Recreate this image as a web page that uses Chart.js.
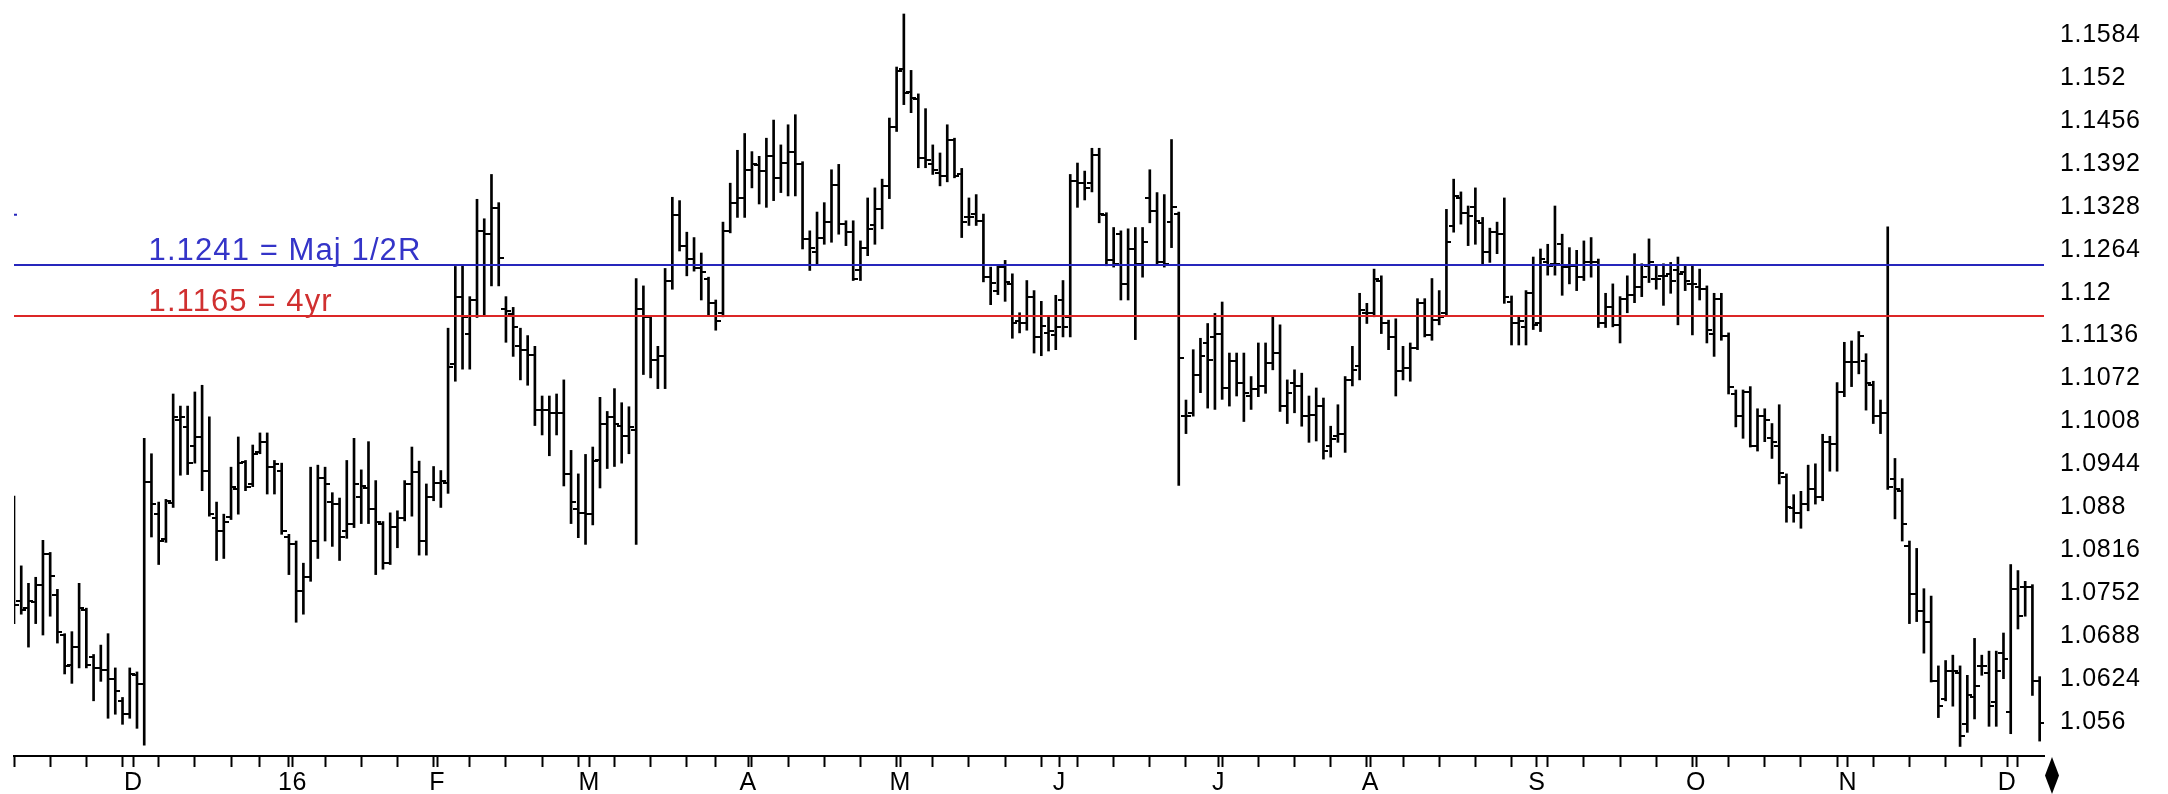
<!DOCTYPE html>
<html>
<head>
<meta charset="utf-8">
<script src="https://cdn.jsdelivr.net/npm/chart.js@4.4.0/dist/chart.umd.min.js"></script>
<style>
  html, body { margin: 0; padding: 0; background: #fff; }
  #wrap { width: 2168px; height: 794px; }
</style>
</head>
<body>
<div id="wrap"><canvas id="chart" width="2168" height="794"></canvas></div>
<script>
// Daily bars, Nov 9 2015 .. Dec 8 2016 (index = trading day)
const opens = [
  1.0739, 1.0740, 1.0730, 1.0739, 1.0765, 1.0810, 1.0750, 1.0690, 1.0645, 1.0672,
  1.0728, 1.0658, 1.0641, 1.0638, 1.0625, 1.0592, 1.0572, 1.0630, 1.0617, 1.0918,
  1.0870, 1.0833, 1.0886, 1.1010, 1.1000, 1.0972, 1.0985, 1.0935, 1.0865, 1.0845,
  1.0866, 1.0907, 1.0948, 1.0915, 1.0962, 1.0977, 1.0941, 1.0935, 1.0836, 1.0825,
  1.0755, 1.0776, 1.0830, 1.0924, 1.0888, 1.0885, 1.0845, 1.0856, 1.0896, 1.0909,
  1.0878, 1.0855, 1.0798, 1.0851, 1.0864, 1.0915, 1.0933, 1.0830, 1.0896, 1.0917,
  1.0917, 1.1094, 1.1194, 1.1139, 1.1189, 1.1292, 1.1287, 1.1326, 1.1176, 1.1168,
  1.1120, 1.1115, 1.1107, 1.1025, 1.1025, 1.1020, 1.1020, 1.0930, 1.0878, 1.0872,
  1.0870, 1.0951, 1.1004, 1.1015, 1.1002, 1.0986, 1.0995, 1.1176, 1.1163, 1.1099,
  1.1105, 1.1218, 1.1316, 1.1270, 1.1250, 1.1237, 1.1220, 1.1184, 1.1170, 1.1292,
  1.1334, 1.1341, 1.1383, 1.1390, 1.1381, 1.1403, 1.1371, 1.1393, 1.1410, 1.1391,
  1.1280, 1.1260, 1.1282, 1.1305, 1.1361, 1.1302, 1.1290, 1.1233, 1.1267, 1.1300,
  1.1324, 1.1359, 1.1447, 1.1533, 1.1499, 1.1489, 1.1400, 1.1391, 1.1378, 1.1373,
  1.1428, 1.1376, 1.1312, 1.1317, 1.1307, 1.1223, 1.1203, 1.1238, 1.1213, 1.1157,
  1.1154, 1.1194, 1.1134, 1.1140, 1.1137, 1.1189, 1.1164, 1.1366, 1.1364, 1.1364,
  1.1405, 1.1315, 1.1248, 1.1287, 1.1213, 1.1265, 1.1243, 1.1341, 1.1321, 1.1245,
  1.1305, 1.1317, 1.1016, 1.1021, 1.1078, 1.1125, 1.1134, 1.1139, 1.1058, 1.1098,
  1.1065, 1.1046, 1.1056, 1.1061, 1.1095, 1.1110, 1.1031, 1.1065, 1.1061, 1.1016,
  1.1018, 1.1031, 1.0972, 1.0987, 1.0989, 1.1070, 1.1090, 1.1169, 1.1169, 1.1218,
  1.1154, 1.1134, 1.1083, 1.1088, 1.1117, 1.1185, 1.1137, 1.1159, 1.1170, 1.1299,
  1.1341, 1.1319, 1.1327, 1.1304, 1.1260, 1.1290, 1.1287, 1.1186, 1.1154, 1.1149,
  1.1199, 1.1154, 1.1245, 1.1243, 1.1272, 1.1238, 1.1240, 1.1223, 1.1245, 1.1245,
  1.1154, 1.1179, 1.1152, 1.1191, 1.1196, 1.1208, 1.1240, 1.1221, 1.1225, 1.1228,
  1.1233, 1.1230, 1.1213, 1.1208, 1.1206, 1.1139, 1.1190, 1.1136, 1.1049, 1.1016,
  1.1052, 1.0972, 1.1016, 1.0984, 1.0972, 1.0926, 1.0879, 1.0871, 1.0885, 1.0907,
  1.0896, 1.0978, 1.0975, 1.1052, 1.1096, 1.1096, 1.1098, 1.1063, 1.1016, 1.1020,
  1.0923, 1.0904, 1.0822, 1.0751, 1.0726, 1.0710, 1.0622, 1.0595, 1.0636, 1.0633,
  1.0557, 1.0597, 1.0644, 1.0633, 1.0590, 1.0663, 1.0576, 1.0759, 1.0762, 1.0762, 1.0622
];
const highs = [
  1.0897, 1.0793, 1.0767, 1.0776, 1.0831, 1.0813, 1.0758, 1.0692, 1.0695, 1.0767,
  1.0730, 1.0661, 1.0675, 1.0692, 1.0641, 1.0597, 1.0641, 1.0635, 1.0983, 1.0960,
  1.0888, 1.0892, 1.1049, 1.1031, 1.1031, 1.1052, 1.1062, 1.1015, 1.0888, 1.0870,
  1.0940, 1.0985, 1.0950, 1.0973, 1.0991, 1.0991, 1.0950, 1.0946, 1.0840, 1.0830,
  1.0797, 1.0940, 1.0943, 1.0940, 1.0902, 1.0894, 1.0950, 1.0983, 1.0936, 1.0978,
  1.0920, 1.0859, 1.0872, 1.0875, 1.0920, 1.0970, 1.0949, 1.0915, 1.0941, 1.0935,
  1.1147, 1.1239, 1.1242, 1.1194, 1.1339, 1.1310, 1.1376, 1.1334, 1.1194, 1.1178,
  1.1147, 1.1136, 1.1120, 1.1046, 1.1046, 1.1049, 1.1070, 1.0965, 1.0930, 1.0959,
  1.0970, 1.1044, 1.1023, 1.1057, 1.1036, 1.1030, 1.1221, 1.1210, 1.1165, 1.1120,
  1.1236, 1.1342, 1.1337, 1.1290, 1.1282, 1.1259, 1.1223, 1.1189, 1.1305, 1.1363,
  1.1412, 1.1437, 1.1410, 1.1403, 1.1430, 1.1457, 1.1420, 1.1450, 1.1465, 1.1395,
  1.1292, 1.1320, 1.1334, 1.1383, 1.1391, 1.1307, 1.1307, 1.1277, 1.1341, 1.1356,
  1.1369, 1.1460, 1.1536, 1.1615, 1.1531, 1.1496, 1.1474, 1.1420, 1.1408, 1.1450,
  1.1430, 1.1385, 1.1341, 1.1346, 1.1317, 1.1238, 1.1241, 1.1248, 1.1228, 1.1170,
  1.1218, 1.1203, 1.1187, 1.1164, 1.1196, 1.1218, 1.1376, 1.1393, 1.1381, 1.1415,
  1.1415, 1.1319, 1.1297, 1.1292, 1.1295, 1.1297, 1.1297, 1.1383, 1.1349, 1.1346,
  1.1428, 1.1320, 1.1040, 1.1115, 1.1132, 1.1154, 1.1169, 1.1186, 1.1110, 1.1110,
  1.1110, 1.1075, 1.1125, 1.1125, 1.1164, 1.1152, 1.1070, 1.1085, 1.1080, 1.1046,
  1.1058, 1.1043, 1.1001, 1.1033, 1.1075, 1.1120, 1.1199, 1.1184, 1.1235, 1.1225,
  1.1159, 1.1161, 1.1120, 1.1125, 1.1191, 1.1191, 1.1221, 1.1203, 1.1324, 1.1369,
  1.1350, 1.1329, 1.1356, 1.1312, 1.1296, 1.1305, 1.1341, 1.1195, 1.1165, 1.1203,
  1.1253, 1.1265, 1.1272, 1.1329, 1.1287, 1.1267, 1.1263, 1.1277, 1.1282, 1.1250,
  1.1199, 1.1213, 1.1194, 1.1225, 1.1258, 1.1243, 1.1280, 1.1240, 1.1243, 1.1245,
  1.1253, 1.1240, 1.1240, 1.1235, 1.1210, 1.1199, 1.1199, 1.1140, 1.1055, 1.1055,
  1.1060, 1.1027, 1.1027, 1.1005, 1.1033, 1.0930, 1.0899, 1.0904, 1.0943, 1.0945,
  1.0989, 1.0986, 1.1066, 1.1126, 1.1128, 1.1142, 1.1109, 1.1068, 1.1040, 1.1298,
  1.0953, 1.0923, 1.0830, 1.0819, 1.0759, 1.0748, 1.0644, 1.0652, 1.0660, 1.0644,
  1.0630, 1.0685, 1.0660, 1.0666, 1.0666, 1.0693, 1.0795, 1.0786, 1.0770, 1.0765, 1.0628
];
const lows = [
  1.0707, 1.0721, 1.0672, 1.0707, 1.0690, 1.0718, 1.0678, 1.0632, 1.0618, 1.0641,
  1.0641, 1.0592, 1.0621, 1.0566, 1.0572, 1.0557, 1.0566, 1.0551, 1.0526, 1.0836,
  1.0795, 1.0828, 1.0880, 1.0928, 1.0929, 1.0946, 1.0905, 1.0867, 1.0801, 1.0804,
  1.0862, 1.0870, 1.0905, 1.0911, 1.0960, 1.0900, 1.0900, 1.0840, 1.0780, 1.0709,
  1.0721, 1.0770, 1.0804, 1.0830, 1.0822, 1.0801, 1.0834, 1.0850, 1.0856, 1.0856,
  1.0780, 1.0788, 1.0795, 1.0820, 1.0860, 1.0867, 1.0809, 1.0809, 1.0890, 1.0880,
  1.0901, 1.1068, 1.1086, 1.1086, 1.1163, 1.1165, 1.1210, 1.1210, 1.1126, 1.1105,
  1.1070, 1.1062, 1.1002, 1.0988, 1.0957, 1.0988, 1.0912, 1.0856, 1.0835, 1.0825,
  1.0854, 1.0909, 1.0938, 1.0941, 1.0946, 1.0960, 1.0825, 1.1078, 1.1073, 1.1057,
  1.1057, 1.1205, 1.1262, 1.1225, 1.1232, 1.1189, 1.1167, 1.1144, 1.1164, 1.1289,
  1.1312, 1.1312, 1.1356, 1.1332, 1.1327, 1.1337, 1.1349, 1.1344, 1.1344, 1.1265,
  1.1233, 1.1243, 1.1272, 1.1275, 1.1287, 1.1270, 1.1218, 1.1218, 1.1255, 1.1272,
  1.1295, 1.1340, 1.1440, 1.1480, 1.1468, 1.1386, 1.1386, 1.1376, 1.1359, 1.1365,
  1.1371, 1.1282, 1.1300, 1.1300, 1.1216, 1.1182, 1.1197, 1.1187, 1.1132, 1.1140,
  1.1144, 1.1110, 1.1106, 1.1113, 1.1115, 1.1134, 1.1134, 1.1327, 1.1338, 1.1350,
  1.1304, 1.1240, 1.1238, 1.1189, 1.1189, 1.1130, 1.1223, 1.1304, 1.1243, 1.1238,
  1.1267, 1.0913, 1.0990, 1.1016, 1.1051, 1.1028, 1.1026, 1.1041, 1.1031, 1.1046,
  1.1008, 1.1026, 1.1045, 1.1050, 1.1085, 1.1023, 1.1005, 1.1021, 1.1001, 1.0977,
  1.0979, 1.0952, 1.0955, 1.0977, 1.0962, 1.1061, 1.1070, 1.1154, 1.1164, 1.1139,
  1.1115, 1.1046, 1.1070, 1.1068, 1.1115, 1.1134, 1.1129, 1.1152, 1.1165, 1.1290,
  1.1302, 1.1270, 1.1272, 1.1243, 1.1245, 1.1258, 1.1184, 1.1122, 1.1122, 1.1122,
  1.1145, 1.1142, 1.1226, 1.1226, 1.1196, 1.1213, 1.1203, 1.1218, 1.1223, 1.1148,
  1.1148, 1.1149, 1.1125, 1.1170, 1.1185, 1.1194, 1.1215, 1.1205, 1.1181, 1.1199,
  1.1152, 1.1203, 1.1137, 1.1189, 1.1125, 1.1105, 1.1129, 1.1049, 1.1000, 1.0983,
  1.0970, 1.0964, 1.0978, 1.0953, 1.0915, 1.0858, 1.0858, 1.0849, 1.0875, 1.0885,
  1.0890, 1.0934, 1.0934, 1.1045, 1.1060, 1.1079, 1.1025, 1.1005, 1.0990, 1.0907,
  1.0863, 1.0830, 1.0707, 1.0710, 1.0663, 1.0620, 1.0567, 1.0592, 1.0584, 1.0524,
  1.0545, 1.0565, 1.0630, 1.0554, 1.0554, 1.0625, 1.0543, 1.0699, 1.0718, 1.0600, 1.0532
];
const closes = [
  1.0735, 1.0727, 1.0740, 1.0765, 1.0810, 1.0778, 1.0695, 1.0644, 1.0672, 1.0730,
  1.0645, 1.0641, 1.0638, 1.0625, 1.0606, 1.0572, 1.0632, 1.0617, 1.0918, 1.0885,
  1.0830, 1.0890, 1.1015, 1.1015, 1.0946, 1.0985, 1.0935, 1.0870, 1.0845, 1.0858,
  1.0911, 1.0946, 1.0911, 1.0960, 1.0977, 1.0941, 1.0945, 1.0845, 1.0825, 1.0756,
  1.0776, 1.0830, 1.0924, 1.0915, 1.0885, 1.0836, 1.0856, 1.0915, 1.0912, 1.0878,
  1.0859, 1.0798, 1.0851, 1.0864, 1.0915, 1.0933, 1.0830, 1.0896, 1.0917, 1.0920,
  1.1089, 1.1194, 1.1163, 1.1189, 1.1292, 1.1287, 1.1326, 1.1252, 1.1173, 1.1149,
  1.1115, 1.1107, 1.1025, 1.1025, 1.1020, 1.1020, 1.0930, 1.0888, 1.0872, 1.0870,
  1.0949, 1.1004, 1.1015, 1.1004, 1.0986, 1.1000, 1.1176, 1.1163, 1.1099, 1.1105,
  1.1218, 1.1316, 1.1270, 1.1250, 1.1237, 1.1230, 1.1184, 1.1157, 1.1292, 1.1334,
  1.1341, 1.1383, 1.1391, 1.1381, 1.1403, 1.1371, 1.1393, 1.1410, 1.1391, 1.1280,
  1.1267, 1.1282, 1.1305, 1.1361, 1.1302, 1.1290, 1.1220, 1.1267, 1.1295, 1.1324,
  1.1359, 1.1447, 1.1530, 1.1498, 1.1490, 1.1400, 1.1398, 1.1383, 1.1373, 1.1428,
  1.1373, 1.1305, 1.1312, 1.1307, 1.1223, 1.1215, 1.1238, 1.1216, 1.1154, 1.1154,
  1.1194, 1.1134, 1.1150, 1.1143, 1.1149, 1.1149, 1.1366, 1.1364, 1.1356, 1.1405,
  1.1317, 1.1248, 1.1243, 1.1213, 1.1265, 1.1243, 1.1275, 1.1321, 1.1245, 1.1243,
  1.1327, 1.1103, 1.1016, 1.1078, 1.1105, 1.1100, 1.1139, 1.1058, 1.1098, 1.1065,
  1.1051, 1.1056, 1.1061, 1.1095, 1.1110, 1.1031, 1.1050, 1.1061, 1.1016, 1.1018,
  1.1031, 1.0964, 1.0982, 1.0989, 1.1070, 1.1085, 1.1174, 1.1169, 1.1220, 1.1154,
  1.1134, 1.1083, 1.1088, 1.1117, 1.1185, 1.1137, 1.1159, 1.1164, 1.1275, 1.1344,
  1.1319, 1.1314, 1.1307, 1.1260, 1.1290, 1.1287, 1.1194, 1.1154, 1.1157, 1.1199,
  1.1152, 1.1250, 1.1240, 1.1243, 1.1238, 1.1240, 1.1223, 1.1245, 1.1245, 1.1154,
  1.1179, 1.1152, 1.1191, 1.1196, 1.1208, 1.1223, 1.1245, 1.1221, 1.1225, 1.1218,
  1.1228, 1.1218, 1.1213, 1.1206, 1.1144, 1.1190, 1.1136, 1.1060, 1.1016, 1.1052,
  1.0972, 1.1016, 1.1011, 1.0978, 1.0931, 1.0880, 1.0871, 1.0885, 1.0907, 1.0896,
  1.0978, 1.0975, 1.1052, 1.1096, 1.1096, 1.1136, 1.1066, 1.1016, 1.1020, 1.0910,
  1.0907, 1.0855, 1.0751, 1.0726, 1.0710, 1.0622, 1.0584, 1.0636, 1.0636, 1.0540,
  1.0600, 1.0614, 1.0644, 1.0584, 1.0636, 1.0655, 1.0759, 1.0718, 1.0762, 1.0622, 1.0559
];

// x axis: Monday ticks, first trading day of each month, month labels
const weekTicks = [0, 5, 10, 15, 20, 25, 30, 34, 38, 43, 48, 53, 58, 63, 68, 73, 78, 83, 88, 93,
  97, 102, 107, 112, 117, 122, 127, 132, 137, 142, 147, 152, 157, 162, 167, 172, 177, 182, 187,
  192, 197, 202, 207, 212, 217, 222, 227, 232, 237, 242, 247, 252, 257, 262, 267, 272, 277];
const monthStarts = [16, 38, 58, 79, 101, 122, 144, 166, 187, 210, 232, 253, 275];
const monthLabels = ['D', '16', 'F', 'M', 'A', 'M', 'J', 'J', 'A', 'S', 'O', 'N', 'D'];

// y axis ticks (right side)
const yTicks = [1.056, 1.0624, 1.0688, 1.0752, 1.0816, 1.088, 1.0944, 1.1008, 1.1072, 1.1136,
  1.12, 1.1264, 1.1328, 1.1392, 1.1456, 1.152, 1.1584];

// horizontal levels
const levelValues = [1.1241, 1.1165];
const levelTexts = ['1.1241 = Maj 1/2R', '1.1165 = 4yr'];
const levelLineColors = ['#2626bc', '#dc2626'];
const levelTextColors = ['#3434c8', '#d03030'];

const xMax = 280.6;
const yMin = 1.05098, yMax = 1.16269;
const FONT = '"Liberation Sans", Arial, Helvetica, sans-serif';

Chart.defaults.font.family = FONT;
Chart.defaults.color = '#000';

function tickImage(side) {
  const c = document.createElement('canvas');
  c.width = 10; c.height = 2;
  const g = c.getContext('2d');
  g.fillStyle = '#000';
  g.fillRect(side === 'left' ? 0 : 5, 0, 5, 2);
  return c;
}

const levelLabels = {
  id: 'levelLabels',
  beforeDraw(chart) {
    // the original axis text is set a little wider than Arial
    chart.ctx.letterSpacing = '0.7px';
  },
  afterDatasetsDraw(chart) {
    const { ctx, scales: { x, y } } = chart;
    ctx.save();
    ctx.font = '31px ' + FONT;
    ctx.letterSpacing = '1.1px';
    ctx.textBaseline = 'alphabetic';
    ctx.textAlign = 'left';
    levelValues.forEach((v, i) => {
      ctx.fillStyle = levelTextColors[i];
      ctx.fillText(levelTexts[i], x.getPixelForValue(18.6), y.getPixelForValue(v) - 5);
    });
    // small blue mark on the left edge
    ctx.fillStyle = levelLineColors[0];
    ctx.fillRect(x.left, y.getPixelForValue(1.1316) - 1, 3, 2);
    ctx.restore();
  },
  afterDraw(chart) {
    // end-of-data diamond under the axis
    const { ctx, chartArea } = chart;
    const cx = chartArea.right + 8, top = chartArea.bottom + 1, bottom = 794;
    ctx.save();
    ctx.fillStyle = '#000';
    ctx.beginPath();
    ctx.moveTo(cx, top);
    ctx.lineTo(cx + 7, (top + bottom) / 2);
    ctx.lineTo(cx, bottom);
    ctx.lineTo(cx - 7, (top + bottom) / 2);
    ctx.closePath();
    ctx.fill();
    ctx.restore();
  }
};

const levelDatasets = levelValues.map((v, i) => ({
  type: 'line',
  data: [{ x: 0, y: v }, { x: xMax, y: v }],
  borderColor: levelLineColors[i],
  borderWidth: 2,
  pointRadius: 0,
  order: 0
}));

new Chart(document.getElementById('chart'), {
  type: 'bar',
  data: {
    datasets: [
      ...levelDatasets,
      {
        type: 'scatter',
        data: opens.map((v, i) => ({ x: i, y: v })),
        pointStyle: tickImage('left'),
        pointRadius: 5,
        order: 1
      },
      {
        type: 'scatter',
        data: closes.map((v, i) => ({ x: i, y: v })),
        pointStyle: tickImage('right'),
        pointRadius: 5,
        order: 1
      },
      {
        type: 'bar',
        data: highs.map((h, i) => ({ x: i, y: [lows[i], h] })),
        backgroundColor: '#000',
        borderWidth: 0,
        barThickness: 2,
        order: 2
      }
    ]
  },
  options: {
    responsive: false,
    animation: false,
    events: [],
    layout: { padding: { left: 14, right: 0, top: 0, bottom: 0 } },
    plugins: {
      legend: { display: false },
      tooltip: { enabled: false }
    },
    scales: {
      x: {
        type: 'linear',
        position: 'bottom',
        min: 0,
        max: xMax,
        offset: false,
        afterBuildTicks: (s) => {
          const t = weekTicks.concat(monthStarts.map(m => m + 0.5)).sort((a, b) => a - b);
          s.ticks = t.map(v => ({ value: v }));
        },
        afterFit: (s) => { s.height = 11; s.paddingLeft = 0; s.paddingRight = 0; },
        ticks: { display: false },
        grid: {
          offset: false,
          drawOnChartArea: false,
          drawTicks: true,
          tickLength: 11,
          tickWidth: 2,
          tickColor: '#000'
        },
        border: { display: true, color: '#000', width: 2 }
      },
      xm: {
        type: 'linear',
        position: 'bottom',
        min: 0,
        max: xMax,
        offset: false,
        afterBuildTicks: (s) => { s.ticks = monthStarts.map(m => ({ value: m + 0.5 })); },
        afterFit: (s) => { s.height = 27; s.paddingLeft = 0; s.paddingRight = 0; },
        grid: { display: false, drawTicks: false },
        border: { display: false },
        ticks: {
          autoSkip: false,
          maxRotation: 0,
          padding: 1,
          color: '#000',
          font: { size: 25 },
          callback: (v, i) => monthLabels[i]
        }
      },
      y: {
        type: 'linear',
        position: 'right',
        min: yMin,
        max: yMax,
        beginAtZero: false,
        afterBuildTicks: (s) => { s.ticks = yTicks.map(v => ({ value: v })); },
        afterFit: (s) => { s.width = 124; s.paddingTop = 0; s.paddingBottom = 0; },
        grid: { display: false, drawTicks: false },
        border: { display: false },
        ticks: {
          padding: 16,
          color: '#000',
          font: { size: 25 },
          callback: (v) => String(+v.toFixed(4))
        }
      }
    }
  },
  plugins: [levelLabels]
});
</script>
</body>
</html>
